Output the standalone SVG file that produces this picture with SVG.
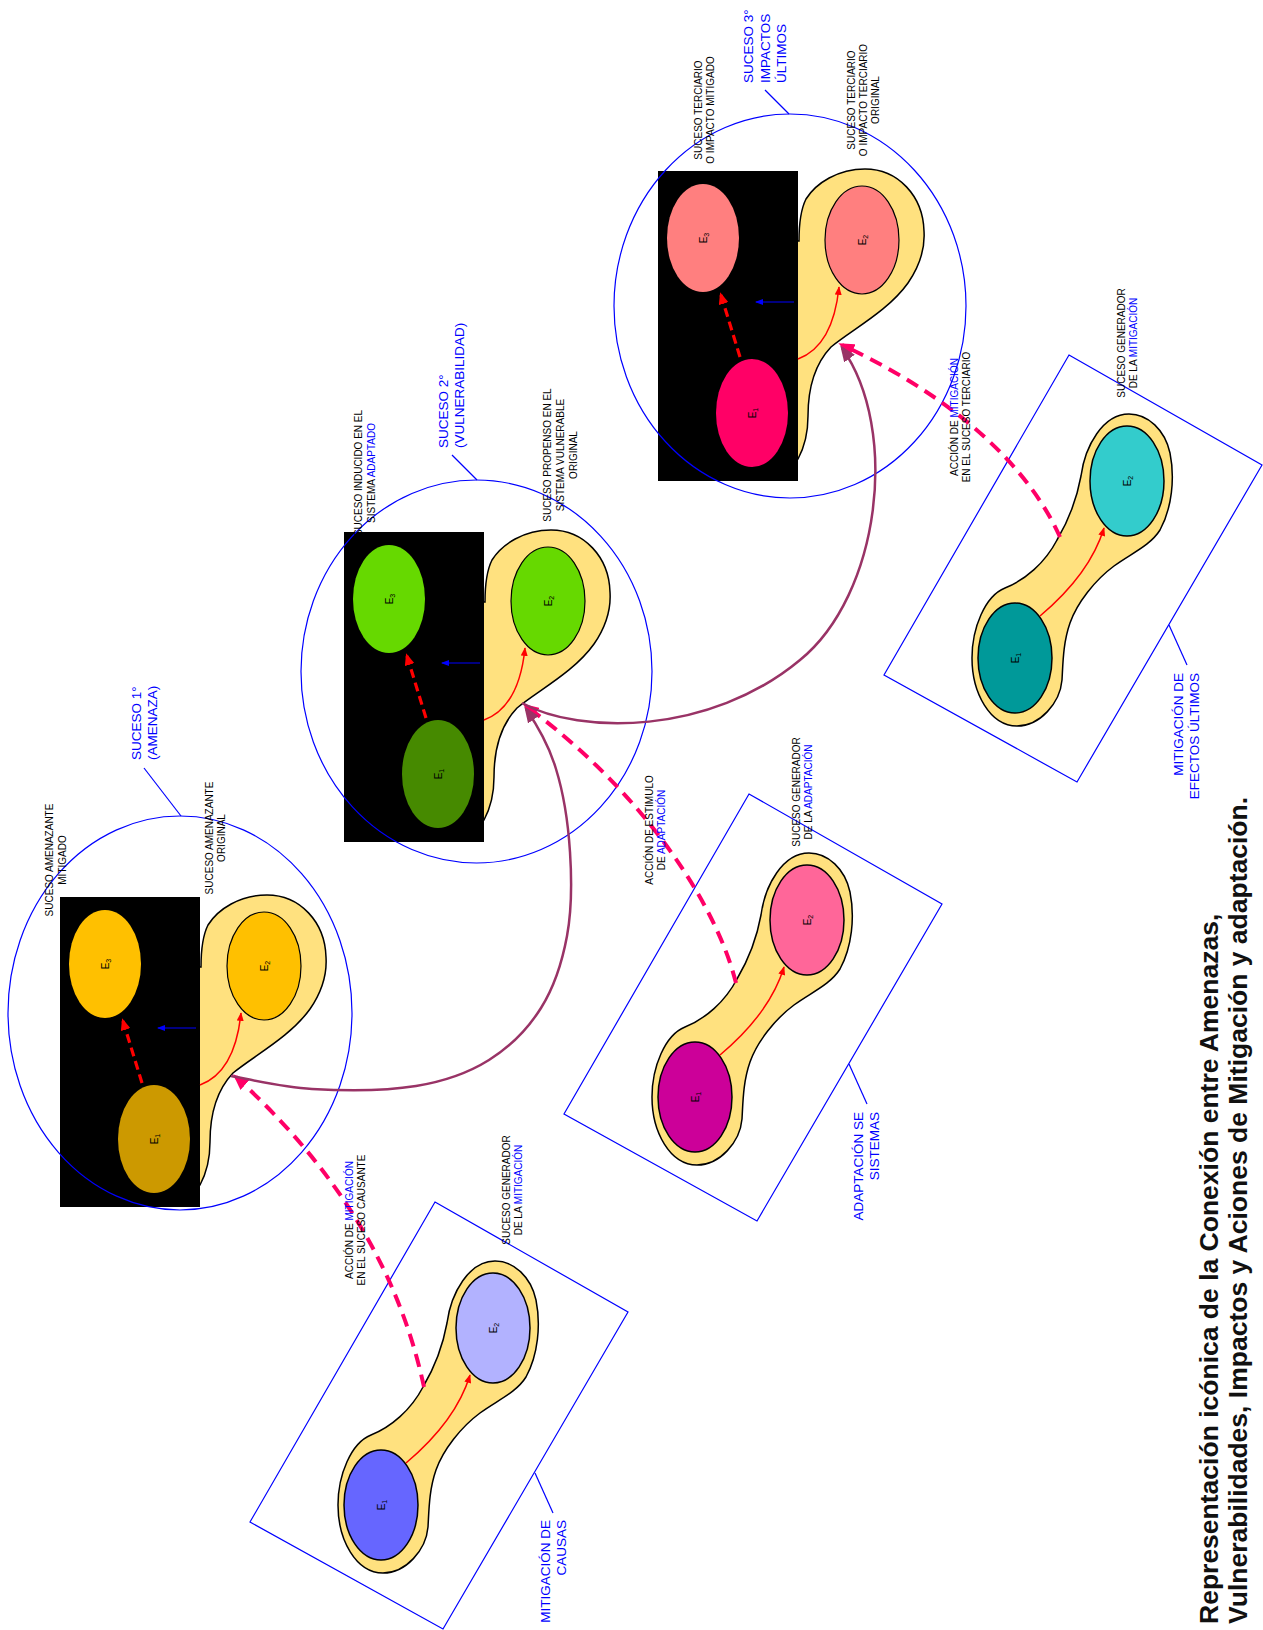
<svg xmlns="http://www.w3.org/2000/svg" width="1263" height="1630" viewBox="0 0 1263 1630">
<style>
text{font-family:"Liberation Sans",Arial,sans-serif}
.sm{font-size:10px;fill:#000}
.bl{fill:#0000FF}
.lg{font-size:13.5px;fill:#0000FF}
.el{font-size:10px;fill:#000}
.blob{fill:#FFE17F;stroke:#000;stroke-width:1.5}
.e2{stroke:#000;stroke-width:1.2}
.circ{fill:none;stroke:#0000FF;stroke-width:1.2}
.tick{fill:none;stroke:#0000FF;stroke-width:1.2}
.rs{fill:none;stroke:#FF0000;stroke-width:1.5}
.rd{fill:none;stroke:#FF0000;stroke-width:3.2;stroke-dasharray:9 5}
.ba{fill:none;stroke:#0000FF;stroke-width:1.2}
.mg{fill:none;stroke:#FF0066;stroke-width:4;stroke-dasharray:13 8}
.pu{fill:none;stroke:#993366;stroke-width:2.5}
</style>
<defs>
<marker id="aRed" viewBox="0 0 10 8" refX="9" refY="4" markerWidth="9" markerHeight="7" markerUnits="userSpaceOnUse" orient="auto"><path d="M0,0L10,4L0,8z" fill="#FF0000"/></marker>
<marker id="aRedD" viewBox="0 0 12 10" refX="9" refY="5" markerWidth="12" markerHeight="10" markerUnits="userSpaceOnUse" orient="auto"><path d="M0,0L12,5L0,10z" fill="#FF0000"/></marker>
<marker id="aBlue" viewBox="0 0 8 6" refX="7" refY="3" markerWidth="8" markerHeight="6" markerUnits="userSpaceOnUse" orient="auto"><path d="M0,0L8,3L0,6z" fill="#0000FF"/></marker>
<marker id="aMag" viewBox="0 0 16 13" refX="12" refY="6.5" markerWidth="16" markerHeight="13" markerUnits="userSpaceOnUse" orient="auto"><path d="M0,0L16,6.5L0,13z" fill="#FF0066"/></marker>
<marker id="aPur" viewBox="0 0 16 13" refX="13" refY="6.5" markerWidth="16" markerHeight="13" markerUnits="userSpaceOnUse" orient="auto"><path d="M0,0L16,6.5L0,13z" fill="#993366"/></marker>
<path id="pear" d="M140,288 C147,275 150,262 150,245 C150,220 155,195 173,176 C195,158 230,140 250,112 C263,93 267,75 266,60 C265,25 240,-2 207,-2 C180,-2 158,12 148,28 C142,40 141,55 141,70 L120,70 L120,290 Z"/>
<path id="dumb" d="M114,-244 C133,-244 150,-228 155,-205 C160,-180 157,-150 145,-128 C135,-112 115,-104 99,-92 C80,-78 62,-55 55,-35 C48,-15 48,5 47,22 C45,45 25,68 2,68 C-25,68 -43,35 -43,0 C-43,-30 -30,-62 -10,-70 C10,-78 30,-95 42,-118 C55,-140 62,-160 66,-182 C70,-212 88,-244 114,-244 Z"/>
</defs>
<rect width="1263" height="1630" fill="#fff"/>

<!-- Suceso 1 -->
<g id="suceso1" transform="translate(60,897)">
<use href="#pear" class="blob"/>
<rect x="0" y="0" width="140" height="310" fill="#000"/>
<ellipse class="e2" cx="204" cy="69" rx="37" ry="54" fill="#FFC000"/>
<ellipse cx="45" cy="67" rx="36" ry="54" fill="#FFC000"/>
<ellipse cx="94" cy="242" rx="36" ry="54" fill="#CC9900"/>
<path class="rs" d="M140,188 Q175,175 181,116" marker-end="url(#aRed)"/>
<path class="rd" d="M82,186 L63,124" marker-end="url(#aRedD)"/>
<path class="ba" d="M136,131 L98,131" marker-end="url(#aBlue)"/>
<text class="el" transform="translate(208,69) rotate(-90)" text-anchor="middle">E<tspan font-size="7" dy="2">2</tspan></text>
<text class="el" transform="translate(49,67) rotate(-90)" text-anchor="middle">E<tspan font-size="7" dy="2">3</tspan></text>
<text class="el" transform="translate(98,242) rotate(-90)" text-anchor="middle">E<tspan font-size="7" dy="2">1</tspan></text>
</g>

<!-- Suceso 2 -->
<g id="suceso2" transform="translate(344,532)">
<use href="#pear" class="blob"/>
<rect x="0" y="0" width="140" height="310" fill="#000"/>
<ellipse class="e2" cx="204" cy="69" rx="37" ry="54" fill="#66D900"/>
<ellipse cx="45" cy="67" rx="36" ry="54" fill="#66D900"/>
<ellipse cx="94" cy="242" rx="36" ry="54" fill="#468A00"/>
<path class="rs" d="M140,188 Q175,175 181,116" marker-end="url(#aRed)"/>
<path class="rd" d="M82,186 L63,124" marker-end="url(#aRedD)"/>
<path class="ba" d="M136,131 L98,131" marker-end="url(#aBlue)"/>
<text class="el" transform="translate(208,69) rotate(-90)" text-anchor="middle">E<tspan font-size="7" dy="2">2</tspan></text>
<text class="el" transform="translate(49,67) rotate(-90)" text-anchor="middle">E<tspan font-size="7" dy="2">3</tspan></text>
<text class="el" transform="translate(98,242) rotate(-90)" text-anchor="middle">E<tspan font-size="7" dy="2">1</tspan></text>
</g>

<!-- Suceso 3 -->
<g id="suceso3" transform="translate(658,171)">
<use href="#pear" class="blob"/>
<rect x="0" y="0" width="140" height="310" fill="#000"/>
<ellipse class="e2" cx="204" cy="69" rx="37" ry="54" fill="#FF7F7F"/>
<ellipse cx="45" cy="67" rx="36" ry="54" fill="#FF7F7F"/>
<ellipse cx="94" cy="242" rx="36" ry="54" fill="#FF0066"/>
<path class="rs" d="M140,188 Q175,175 181,116" marker-end="url(#aRed)"/>
<path class="rd" d="M82,186 L63,124" marker-end="url(#aRedD)"/>
<path class="ba" d="M136,131 L98,131" marker-end="url(#aBlue)"/>
<text class="el" transform="translate(208,69) rotate(-90)" text-anchor="middle">E<tspan font-size="7" dy="2">2</tspan></text>
<text class="el" transform="translate(49,67) rotate(-90)" text-anchor="middle">E<tspan font-size="7" dy="2">3</tspan></text>
<text class="el" transform="translate(98,242) rotate(-90)" text-anchor="middle">E<tspan font-size="7" dy="2">1</tspan></text>
</g>

<!-- circles -->
<g id="circulos">
<ellipse class="circ" cx="180" cy="1013" rx="172" ry="197"/>
<line class="tick" x1="144" y1="768" x2="181" y2="816"/>
<ellipse class="circ" cx="476.5" cy="671.5" rx="175.5" ry="191.5"/>
<line class="tick" x1="452" y1="455" x2="477" y2="480"/>
<ellipse class="circ" cx="790" cy="306" rx="176" ry="192"/>
<line class="tick" x1="765" y1="90" x2="789" y2="114"/>
</g>

<!-- Mitigación de causas -->
<g id="mitigacion-causas" transform="translate(381,1505)">
<polygon points="54,-303 247,-193 62,124 -131,17" fill="none" stroke="#0000FF" stroke-width="1.2"/>
<use href="#dumb" class="blob"/>
<ellipse cx="0" cy="0" rx="37" ry="55" fill="#6666FF" stroke="#000" stroke-width="1.5"/>
<ellipse cx="112" cy="-177" rx="37" ry="55" fill="#B2B2FF" stroke="#000" stroke-width="1.5"/>
<path class="rs" d="M25,-42 Q75,-84 89,-130" marker-end="url(#aRed)"/>
<text class="el" transform="translate(4,0) rotate(-90)" text-anchor="middle">E<tspan font-size="7" dy="2">1</tspan></text>
<text class="el" transform="translate(116,-177) rotate(-90)" text-anchor="middle">E<tspan font-size="7" dy="2">2</tspan></text>
<line class="tick" x1="154" y1="-32" x2="172" y2="8"/>
</g>

<!-- Adaptación -->
<g id="adaptacion" transform="translate(695,1097)">
<polygon points="54,-303 247,-193 62,124 -131,17" fill="none" stroke="#0000FF" stroke-width="1.2"/>
<use href="#dumb" class="blob"/>
<ellipse cx="0" cy="0" rx="37" ry="55" fill="#CC0099" stroke="#000" stroke-width="1.5"/>
<ellipse cx="112" cy="-177" rx="37" ry="55" fill="#FF6699" stroke="#000" stroke-width="1.5"/>
<path class="rs" d="M25,-42 Q75,-84 89,-130" marker-end="url(#aRed)"/>
<text class="el" transform="translate(4,0) rotate(-90)" text-anchor="middle">E<tspan font-size="7" dy="2">1</tspan></text>
<text class="el" transform="translate(116,-177) rotate(-90)" text-anchor="middle">E<tspan font-size="7" dy="2">2</tspan></text>
<line class="tick" x1="154" y1="-33" x2="172" y2="7"/>
</g>

<!-- Mitigación de efectos -->
<g id="mitigacion-efectos" transform="translate(1015,658)">
<polygon points="54,-303 247,-193 62,124 -131,17" fill="none" stroke="#0000FF" stroke-width="1.2"/>
<use href="#dumb" class="blob"/>
<ellipse cx="0" cy="0" rx="37" ry="55" fill="#009999" stroke="#000" stroke-width="1.5"/>
<ellipse cx="112" cy="-177" rx="37" ry="55" fill="#33CCCC" stroke="#000" stroke-width="1.5"/>
<path class="rs" d="M25,-42 Q75,-84 89,-130" marker-end="url(#aRed)"/>
<text class="el" transform="translate(4,0) rotate(-90)" text-anchor="middle">E<tspan font-size="7" dy="2">1</tspan></text>
<text class="el" transform="translate(116,-177) rotate(-90)" text-anchor="middle">E<tspan font-size="7" dy="2">2</tspan></text>
<line class="tick" x1="154" y1="-33" x2="172" y2="7"/>
</g>

<!-- connectors -->
<g id="conectores">
<path class="mg" d="M424,1387 C405,1300 360,1190 236,1077" marker-end="url(#aMag)"/>
<path class="mg" d="M736,983 C715,900 640,790 526,706" marker-end="url(#aMag)"/>
<path class="mg" d="M1060,537 C1030,470 960,400 842,345" marker-end="url(#aMag)"/>
<path class="pu" d="M231,1076 C244.5,1078.2 281.2,1087.3 312,1089 C342.8,1090.7 386.5,1090.8 416,1086 C445.5,1081.2 468.2,1073 489,1060 C509.8,1047 528,1028.7 541,1008 C554,987.3 562.2,962 567,936 C571.8,910 571.8,879.8 570,852 C568.2,824.2 563.5,793.2 556,769 C548.5,743.8 535,722 526,709" marker-end="url(#aPur)"/>
<path class="pu" d="M522,703 C580,735 710,735 800,660 C880,595 900,430 842,348" marker-end="url(#aPur)"/>
</g>

<!-- labels -->
<g id="etiquetas">
<text class="lg" transform="translate(141,760) rotate(-90)"><tspan x="0" y="0">SUCESO 1°</tspan><tspan x="0" y="16">(AMENAZA)</tspan></text>
<text class="lg" transform="translate(448,448) rotate(-90)"><tspan x="0" y="0">SUCESO 2°</tspan><tspan x="0" y="16">(VULNERABILIDAD)</tspan></text>
<text class="lg" transform="translate(753,83) rotate(-90)"><tspan x="0" y="0">SUCESO 3°</tspan><tspan x="0" y="16.5">IMPACTOS</tspan><tspan x="0" y="33">ÚLTIMOS</tspan></text>
<text class="lg" transform="translate(550,1520) rotate(-90)" text-anchor="end"><tspan x="0" y="0">MITIGACIÓN DE</tspan><tspan x="0" y="16">CAUSAS</tspan></text>
<text class="lg" transform="translate(863,1112) rotate(-90)" text-anchor="end"><tspan x="0" y="0">ADAPTACIÓN SE</tspan><tspan x="0" y="16">SISTEMAS</tspan></text>
<text class="lg" transform="translate(1183,673) rotate(-90)" text-anchor="end"><tspan x="0" y="0">MITIGACIÓN DE</tspan><tspan x="0" y="16">EFECTOS ÚLTIMOS</tspan></text>

<text class="sm" transform="translate(53,860) rotate(-90)" text-anchor="middle"><tspan x="0" y="0">SUCESO AMENAZANTE</tspan><tspan x="0" y="13">MITIGADO</tspan></text>
<text class="sm" transform="translate(213,838) rotate(-90)" text-anchor="middle"><tspan x="0" y="0">SUCESO AMENAZANTE</tspan><tspan x="0" y="12">ORIGINAL</tspan></text>
<text class="sm" transform="translate(362,473) rotate(-90)" text-anchor="middle"><tspan x="0" y="0">SUCESO INDUCIDO EN EL</tspan><tspan x="0" y="13">SISTEMA <tspan class="bl">ADAPTADO</tspan></tspan></text>
<text class="sm" transform="translate(551,455) rotate(-90)" text-anchor="middle"><tspan x="0" y="0">SUCESO PROPENSO EN EL</tspan><tspan x="0" y="13">SISTEMA  VULNERABLE</tspan><tspan x="0" y="26">ORIGINAL</tspan></text>
<text class="sm" transform="translate(702,110) rotate(-90)" text-anchor="middle"><tspan x="0" y="0">SUCESO TERCIARIO</tspan><tspan x="0" y="12">O IMPACTO MITIGADO</tspan></text>
<text class="sm" transform="translate(855,100) rotate(-90)" text-anchor="middle"><tspan x="0" y="0">SUCESO TERCIARIO</tspan><tspan x="0" y="12">O IMPACTO TERCIARIO</tspan><tspan x="0" y="23.5">ORIGINAL</tspan></text>
<text class="sm" transform="translate(510,1190) rotate(-90)" text-anchor="middle"><tspan x="0" y="0">SUCESO GENERADOR</tspan><tspan x="0" y="12">DE LA <tspan class="bl">MITIGACIÓN</tspan></tspan></text>
<text class="sm" transform="translate(800,792) rotate(-90)" text-anchor="middle"><tspan x="0" y="0">SUCESO GENERADOR</tspan><tspan x="0" y="12">DE LA <tspan class="bl">ADAPTACIÓN</tspan></tspan></text>
<text class="sm" transform="translate(1125,343) rotate(-90)" text-anchor="middle"><tspan x="0" y="0">SUCESO GENERADOR</tspan><tspan x="0" y="12">DE LA <tspan class="bl">MITIGACIÓN</tspan></tspan></text>
<text class="sm" transform="translate(353,1220) rotate(-90)" text-anchor="middle"><tspan x="0" y="0">ACCIÓN DE <tspan class="bl">MITIGACIÓN</tspan></tspan><tspan x="0" y="12">EN EL SUCESO CAUSANTE</tspan></text>
<text class="sm" transform="translate(653,830) rotate(-90)" text-anchor="middle"><tspan x="0" y="0">ACCIÓN DE ESTIMULO</tspan><tspan x="0" y="12">DE <tspan class="bl">ADAPTACIÓN</tspan></tspan></text>
<text class="sm" transform="translate(958,417) rotate(-90)" text-anchor="middle"><tspan x="0" y="0">ACCIÓN DE <tspan class="bl">MITIGACIÓN</tspan></tspan><tspan x="0" y="12">EN EL SUCESO TERCIARIO</tspan></text>

<text transform="translate(1218,1624) rotate(-90)" font-weight="bold" font-size="26.5" fill="#111"><tspan x="0" y="0">Representación icónica de la Conexión entre Amenazas,</tspan><tspan x="0" y="29">Vulnerabilidades, Impactos y Aciones de Mitigación y adaptación.</tspan></text>
</g>
</svg>
